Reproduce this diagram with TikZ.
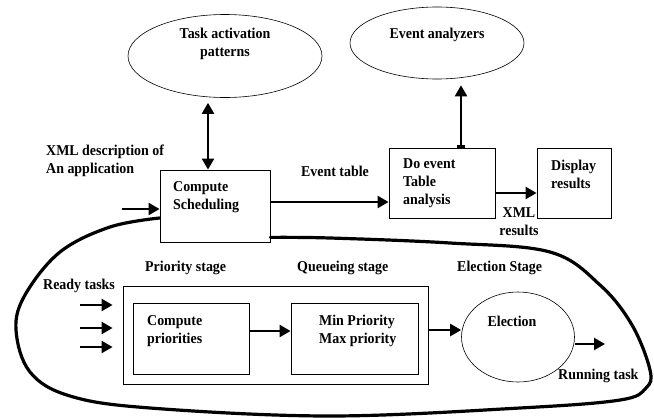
\documentclass[tikz,border=0pt]{standalone}
\usepackage{fontspec}
\setmainfont{Liberation Serif}[FakeStretch=0.93]
\usetikzlibrary{arrows.meta,shapes.geometric}

\begin{document}
\begin{tikzpicture}[x=1pt,y=-1pt,
	box/.style={draw,line width=0.8pt,inner sep=0pt},
	oval/.style={draw,ellipse,line width=0.6pt,inner sep=0pt},
	lbl/.style={font=\fontsize{15}{18}\selectfont\bfseries,inner sep=0pt,align=left},
	arr/.style={line width=2.2pt,-{Triangle[length=11pt,width=12pt]}},
	loopline/.style={line width=3.2pt,line cap=round}]
	\useasboundingbox (0,0) rectangle (654,418);
	% top row
	\node[oval,minimum width=194,minimum height=83] (taskpat) at (225,56) {};
	\node[lbl,align=center] (taskpattxt) at (225,44) {Task activation\\patterns};
	\node[oval,minimum width=174,minimum height=72] (analyzers) at (437,43) {};
	\node[lbl] (analyzerstxt) at (437,35) {Event analyzers};
	%
	\node[box,minimum width=110,minimum height=72] (sched) at (215,206) {};
	\node[lbl,anchor=west] (schedtxt) at (173,197) {Compute\\Scheduling};
	\node[box,minimum width=106,minimum height=70] (doevent) at (442,183) {};
	\node[lbl,anchor=west] (doeventtxt) at (403,183) {Do event\\Table\\analysis};
	\node[box,minimum width=74,minimum height=70] (display) at (574,183) {};
	\node[lbl,anchor=west] (displaytxt) at (551,174) {Display\\results};
	%
	\node[lbl,anchor=west] (xmldesc) at (46,161) {XML description of\\An application};
	\node[lbl] (evtable) at (335,171) {Event table};
	\node[lbl,align=center] (xmlres) at (519,222) {XML\\results};
	\coordinate (schedin) at (122,209);
	%
	\draw[arr,{Triangle[length=11pt,width=12pt]}-{Triangle[length=11pt,width=12pt]}]
		([xshift=-7pt]sched.north) -- ([xshift=-7pt,yshift=-5pt]sched.north |- taskpat.south);
	\draw[arr,{Bar[width=8pt]}-{Triangle[length=11pt,width=12pt]}]
		([xshift=19pt]doevent.north) -- ([xshift=19pt,yshift=-6pt]doevent.north |- analyzers.south);
	\draw[arr] (schedin) -- (schedin -| sched.west);
	\draw[arr] ([yshift=4pt]sched.east) -- ([yshift=4pt]sched.east -| doevent.west);
	\draw[arr] ([yshift=-10pt]doevent.east) -- ([yshift=-10pt]doevent.east -| display.west);
	% scheduler stages
	\node[lbl,anchor=west] (priostage) at (145,268) {Priority stage};
	\node[lbl,anchor=west] (queuestage) at (297,268) {Queueing stage};
	\node[lbl,anchor=west] (electstage) at (457,268) {Election Stage};
	\node[lbl,anchor=west] (ready) at (43,286) {Ready tasks};
	\node[box,minimum width=305,minimum height=98] (stage) at (275.5,335) {};
	\node[box,minimum width=116,minimum height=71] (prio) at (191,338.5) {};
	\node[lbl,anchor=west] (priotxt) at (147,331) {Compute\\priorities};
	\node[box,minimum width=127,minimum height=71] (queue) at (354.5,338.5) {};
	\node[lbl,anchor=west] (queuetxt) at (319,331) {Min Priority\\Max priority};
	\node[oval,minimum width=113,minimum height=90] (election) at (518,337) {};
	\node[lbl] (electiontxt) at (512,321) {Election};
	\node[lbl,anchor=west] (running) at (558,376) {Running task};
	\coordinate (runout) at (605,344);
	%
	\foreach \i/\y in {1/305,2/328,3/347} {
		\coordinate (rdy\i) at (80,\y);
		\draw[arr,shorten >=10pt] (rdy\i) -- (rdy\i -| stage.west);
	}
	\draw[arr] ([yshift=7.5pt]prio.east) -- ([yshift=7.5pt]prio.east -| queue.west);
	\draw[arr] ([yshift=5pt]stage.east) -- ([yshift=5pt]stage.east -| election.west);
	\draw[arr] ([yshift=-7pt]election.east) -- (runout);
	% feedback loop
	\draw[loopline] plot[smooth,tension=0.6] coordinates {([yshift=-12pt]sched.west) (110,227) (60,252)
		(25,295) (16,330) (30,372) (70,396) (150,408) (330,416) (520,408) (620,400) (646,388)
		(650,370) (632,325) (600,285) (550,252) (450,243) (330,238) ([yshift=5pt]sched.south east)};
\end{tikzpicture}
\end{document}
